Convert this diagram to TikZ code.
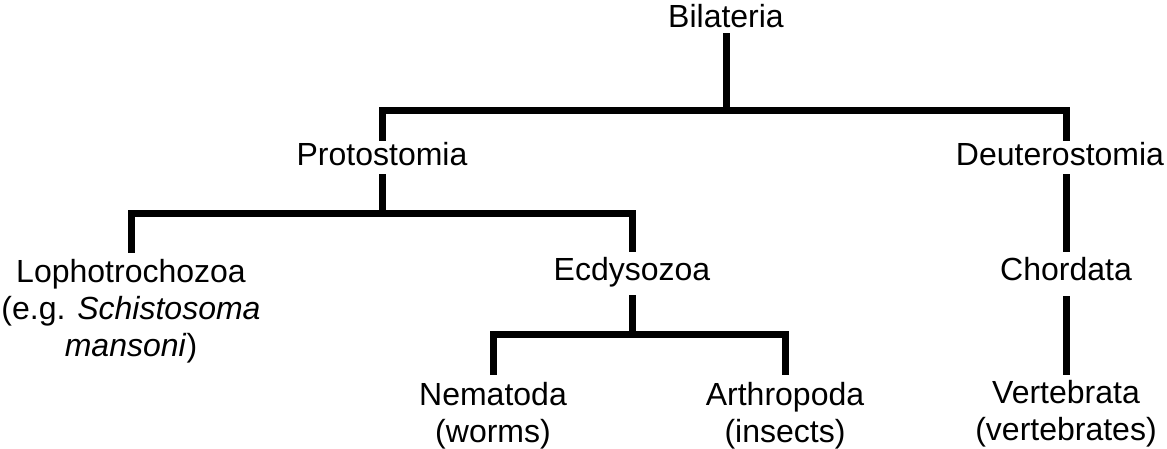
\documentclass[tikz,border=0pt]{standalone}
\usepackage{fontspec}
\setmainfont{Liberation Sans}
\newcommand\lines[1]{\vtop{\halign{\hfil##\hfil\cr#1\crcr}}}
\begin{document}
\begin{tikzpicture}[x=1pt,y=-1pt,
  lbl/.style={font=\fontsize{32}{37}\selectfont, inner sep=0pt, anchor=base,
              text height=23pt, text depth=7pt},
  br/.style={line width=7pt, line join=miter, line cap=butt}]
\useasboundingbox (0,0) rectangle (1167,448);
% labels
\node[lbl] (bil) at (726,27)    {Bilateria};
\node[lbl] (pro) at (382,165)   {Protostomia};
\node[lbl] (deu) at (1060,165)  {Deuterostomia};
\node[lbl] (lop) at (131,282)   {\lines{Lophotrochozoa\cr(e.g. \textit{Schistosoma}\cr\textit{mansoni})}};
\node[lbl] (ecd) at (632,280)   {Ecdysozoa};
\node[lbl] (cho) at (1066,280)  {Chordata};
\node[lbl] (nem) at (493,405)   {\lines{Nematoda\cr(worms)}};
\node[lbl] (art) at (785,405)   {\lines{Arthropoda\cr(insects)}};
\node[lbl] (ver) at (1066,403)  {\lines{Vertebrata\cr(vertebrates)}};
% bar levels
\coordinate (b1) at (0,110.5);
\coordinate (b2) at (0,213.5);
\coordinate (b3) at (0,334.5);
% Bilateria
\draw[br] ([yshift=1pt]bil.south) -- (bil.south |- b1);
\draw[br] ([yshift=1pt]pro.north) -- (pro.north |- b1)
          -- (cho.north |- b1) -- ([xshift=6pt,yshift=1pt]deu.north);
% Protostomia
\draw[br] ([yshift=-2pt]pro.south) -- (pro.south |- b2);
\draw[br] ([yshift=6pt]lop.north) -- (lop.north |- b2)
          -- (ecd.north |- b2) -- ([yshift=5pt]ecd.north);
% Deuterostomia -> Chordata
\draw[br] ([xshift=6pt,yshift=-2pt]deu.south) -- ([yshift=5pt]cho.north);
% Ecdysozoa
\draw[br] ([yshift=-8pt]ecd.south) -- (ecd.south |- b3);
\draw[br] ([yshift=7pt]nem.north) -- (nem.north |- b3)
          -- (art.north |- b3) -- ([yshift=7pt]art.north);
% Chordata -> Vertebrata
\draw[br] ([yshift=-9pt]cho.south) -- ([yshift=5pt]ver.north);
\end{tikzpicture}
\end{document}
